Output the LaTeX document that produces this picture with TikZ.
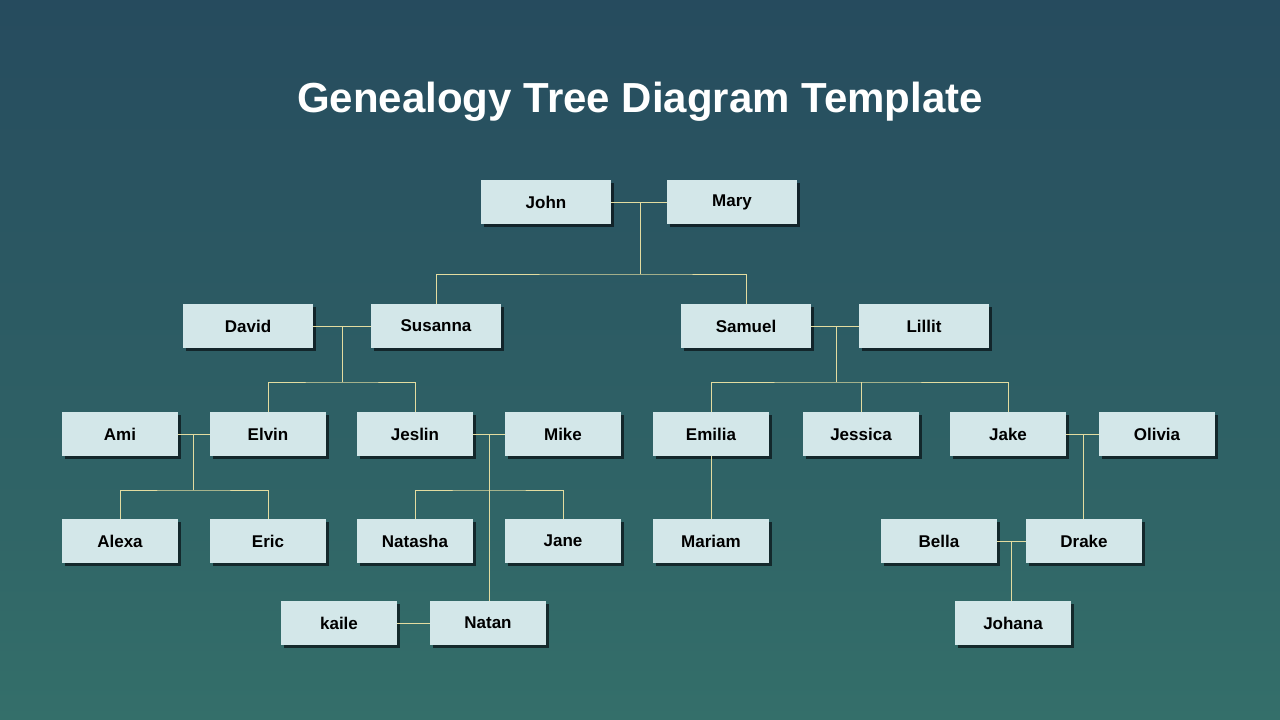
\documentclass[tikz,border=0pt]{standalone}
\usepackage{fontspec}
\setmainfont{Liberation Sans}
\usetikzlibrary{shadows}
\definecolor{bgtop}{HTML}{264B5E}
\definecolor{bgbot}{HTML}{346F6A}
\definecolor{boxfill}{HTML}{D3E7E9}
\definecolor{linkcol}{HTML}{E3DCA0}
\tikzset{
  person/.style={fill=boxfill, minimum height=44pt, minimum width=116pt, inner sep=0pt,
    font=\fontsize{17}{20}\selectfont\bfseries, text=black,
    drop shadow={shadow xshift=3pt, shadow yshift=-3pt, opacity=.7, fill=black!80!bgtop}},
  wide/.style={minimum width=130pt},
  link/.style={draw=linkcol, line width=0.8pt}
}
\begin{document}
\begin{tikzpicture}[x=1pt, y=-1pt]
	\shade[top color=bgtop, bottom color=bgbot] (0,0) rectangle (1280,720);
	\useasboundingbox (0,0) rectangle (1280,720);
	\node[text=white, font=\fontsize{42}{48}\selectfont\bfseries] (title) at (640,102) {Genealogy Tree Diagram Template};

	% connectors first
	\coordinate (jm) at (640,203);
	\coordinate (jmdown) at (640,274);
	\coordinate (ds) at (342,326);
	\coordinate (dsdown) at (342,382);
	\coordinate (sl) at (836,326);
	\coordinate (sldown) at (836,382);
	\coordinate (ae) at (193,434);
	\coordinate (aedown) at (193,490);
	\coordinate (jmk) at (489,434);
	\coordinate (jmkdown) at (489,490);
	\coordinate (jo) at (1083,434);
	\coordinate (bd) at (1011,541);

	\node[person, wide] (john) at (546,202) {John};
	\node[person, wide] (mary) at (732,202) {Mary};

	\node[person, wide] (david) at (248,326) {David};
	\node[person, wide] (susanna) at (436,326) {Susanna};
	\node[person, wide] (samuel) at (746,326) {Samuel};
	\node[person, wide] (lillit) at (924,326) {Lillit};

	\node[person] (ami) at (120,434) {Ami};
	\node[person] (elvin) at (268,434) {Elvin};
	\node[person] (jeslin) at (415,434) {Jeslin};
	\node[person] (mike) at (563,434) {Mike};
	\node[person] (emilia) at (711,434) {Emilia};
	\node[person] (jessica) at (861,434) {Jessica};
	\node[person] (jake) at (1008,434) {Jake};
	\node[person] (olivia) at (1157,434) {Olivia};

	\node[person] (alexa) at (120,541) {Alexa};
	\node[person] (eric) at (268,541) {Eric};
	\node[person] (natasha) at (415,541) {Natasha};
	\node[person] (jane) at (563,541) {Jane};
	\node[person] (mariam) at (711,541) {Mariam};
	\node[person] (bella) at (939,541) {Bella};
	\node[person] (drake) at (1084,541) {Drake};

	\node[person] (kaile) at (339,623) {kaile};
	\node[person] (natan) at (488,623) {Natan};
	\node[person] (johana) at (1013,623) {Johana};

	\begin{scope}[on background layer/.style={}]
	\draw[link] (john) -- (mary);
	\draw[link] (jm) -- (jmdown);
	\draw[link] (susanna.north) |- (jmdown) -| (samuel.north);
	\draw[link] (david) -- (susanna);
	\draw[link] (ds) -- (dsdown);
	\draw[link] (elvin.north) |- (dsdown) -| (jeslin.north);
	\draw[link] (samuel) -- (lillit);
	\draw[link] (sl) -- (sldown);
	\draw[link] (emilia.north) |- (sldown) -| (jake.north);
	\draw[link] (jessica.north) -- (jessica.north |- sldown);
	\draw[link] (ami) -- (elvin);
	\draw[link] (ae) -- (aedown);
	\draw[link] (alexa.north) |- (aedown) -| (eric.north);
	\draw[link] (jeslin) -- (mike);
	\draw[link] (jmk) -- (jmk |- natan.north);
	\draw[link] (natasha.north) |- (jmkdown) -| (jane.north);
	\draw[link] (emilia) -- (mariam);
	\draw[link] (jake) -- (olivia);
	\draw[link] (jo) -- (jo |- drake.north);
	\draw[link] (bella) -- (drake);
	\draw[link] (bd) -- (bd |- johana.north);
	\draw[link] (kaile) -- (natan);
	\end{scope}
\end{tikzpicture}
\end{document}
